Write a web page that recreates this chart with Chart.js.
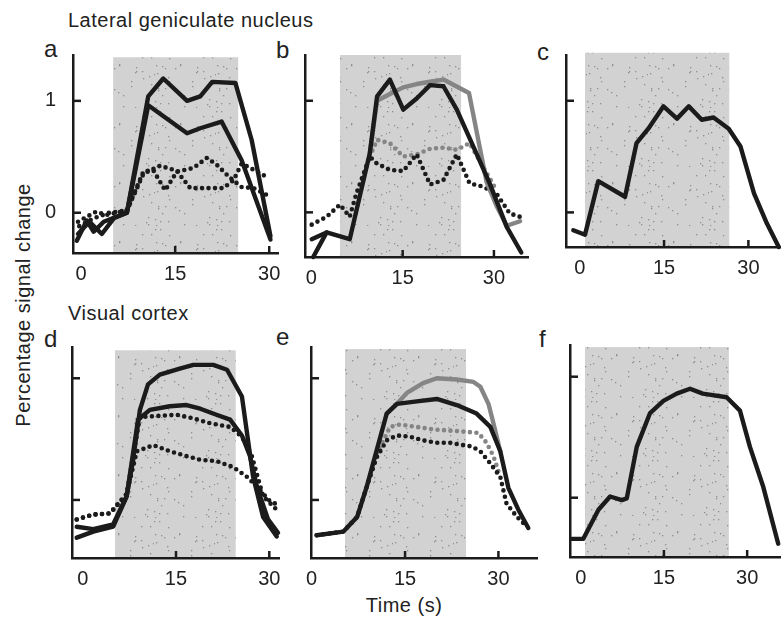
<!DOCTYPE html>
<html>
<head>
<meta charset="utf-8">
<script src="https://cdn.jsdelivr.net/npm/chart.js@4/dist/chart.umd.min.js"></script>
<style>
body { margin: 0; background: #fff; width: 781px; height: 621px; overflow: hidden; position: relative;
       font-family: "Liberation Sans", Arial, sans-serif; color: #222; }
.lbl { position: absolute; white-space: nowrap; line-height: 20px; font-size: 20px; letter-spacing: 0.5px; }
.let { position: absolute; line-height: 24px; font-size: 24px; }
canvas { position: absolute; }
</style>
</head>
<body>
<div class="lbl" style="left:68px;top:10px">Lateral geniculate nucleus</div>
<div class="lbl" style="left:68px;top:303px">Visual cortex</div>
<div class="lbl" style="left:23px;top:305px;transform:translate(-50%,-50%) rotate(-90deg)">Percentage signal change</div>
<div class="lbl" style="left:404px;top:595px;transform:translateX(-50%)">Time (s)</div>
<div class="let" style="left:44px;top:37px">a</div>
<div class="let" style="left:276px;top:38px">b</div>
<div class="let" style="left:537px;top:40px">c</div>
<div class="let" style="left:44px;top:327px">d</div>
<div class="let" style="left:276px;top:325px">e</div>
<div class="let" style="left:539px;top:327px">f</div>

<script>
// ---- data (time in s, percentage signal change) ----
// a: LGN, two solid + two dotted conditions
const aSolid1T = [-0.7, 0.9, 2.0, 3.6, 5.4, 7.3, 10.7, 13.1, 16.9, 19.0, 20.9, 24.6, 27.2, 30.2];
const aSolid1V = [-0.25, -0.07, -0.17, -0.08, -0.04, 0.0, 1.04, 1.2, 1.0, 1.04, 1.17, 1.16, 0.65, -0.21];
const aSolid2T = [-0.5, 1.3, 3.3, 5.2, 7.3, 10.7, 16.9, 19.0, 22.4, 25.6, 30.2];
const aSolid2V = [-0.19, -0.08, -0.19, -0.05, 0.0, 0.96, 0.71, 0.755, 0.815, 0.47, -0.24];
const aDot1T = [-0.5, 2.4, 4.0, 7.3, 9.95, 12.6, 15.5, 17.9, 20.05, 21.6, 23.8, 25.6, 27.5, 29.6];
const aDot1V = [-0.08, 0.01, -0.02, 0.02, 0.35, 0.42, 0.37, 0.40, 0.49, 0.43, 0.31, 0.23, 0.22, 0.16];
const aDot2T = [-0.3, 2.0, 4.5, 7.3, 9.95, 11.5, 13.4, 15.3, 17.4, 20.05, 22.7, 24.3, 25.6, 28.0, 29.9];
const aDot2V = [-0.12, -0.05, 0.0, 0.02, 0.37, 0.38, 0.20, 0.37, 0.22, 0.22, 0.22, 0.29, 0.44, 0.37, 0.31];

// b: LGN, black and gray conditions
const bBlackT = [0.05, 2.5, 6.3, 9.6, 10.8, 12.9, 15.1, 17.3, 19.5, 21.7, 23.9, 27.1, 29.3, 32.1, 34.5];
const bBlackV = [-0.24, -0.18, -0.24, 0.53, 1.04, 1.19, 0.92, 1.02, 1.14, 1.13, 0.92, 0.53, 0.26, -0.13, -0.36];
const bBlack2T = [0.3, 1.9, 2.5];
const bBlack2V = [-0.4, -0.24, -0.18];
const bGrayT = [9.6, 10.8, 12.9, 15.1, 17.3, 19.5, 21.7, 25.9, 28.8, 30.5, 32.1, 34.3];
const bGrayV = [0.53, 1.0, 1.06, 1.12, 1.15, 1.17, 1.19, 1.07, 0.27, 0.05, -0.12, -0.08];
const bBlackDotT = [0.05, 2.5, 4.7, 6.3, 7.4, 9.6, 10.7, 12.9, 15.1, 17.3, 19.5, 21.7, 23.9, 26.0, 28.2, 30.4, 32.6, 34.3];
const bBlackDotV = [-0.11, -0.04, 0.07, -0.04, 0.17, 0.5, 0.44, 0.38, 0.37, 0.52, 0.25, 0.29, 0.52, 0.26, 0.23, 0.17, -0.01, -0.04];
const bGrayDotT = [9.6, 10.8, 12.9, 15.1, 17.3, 19.5, 21.7, 23.9, 26.0, 28.2, 30.4];
const bGrayDotV = [0.5, 0.65, 0.62, 0.5, 0.52, 0.57, 0.58, 0.56, 0.62, 0.41, 0.2];

// c: LGN, single response
const cT = [-1.14, 0.94, 3.3, 8.06, 10.1, 12.2, 14.9, 17.3, 19.4, 21.7, 23.8, 26.5, 28.6, 31.0, 33.3, 35.4];
const cV = [-0.16, -0.2, 0.28, 0.14, 0.62, 0.75, 0.95, 0.84, 0.95, 0.83, 0.85, 0.75, 0.59, 0.17, -0.1, -0.31];

// d: visual cortex, two solid + two dotted
const dSolid1T = [-0.96, 1.7, 4.9, 7.07, 8.1, 9.2, 10.5, 12.4, 15.6, 17.8, 21.0, 23.2, 25.6, 27.4, 29.0, 31.2];
const dSolid1V = [-0.31, -0.26, -0.22, 0.03, 0.33, 0.74, 0.95, 1.03, 1.08, 1.11, 1.11, 1.07, 0.85, 0.19, -0.14, -0.30];
const dSolid2T = [-0.96, 1.7, 4.9, 7.07, 8.9, 10.8, 14.0, 16.7, 18.9, 21.5, 23.7, 25.6, 26.9, 28.0, 29.8, 31.4];
const dSolid2V = [-0.22, -0.24, -0.2, 0.03, 0.66, 0.74, 0.77, 0.78, 0.75, 0.70, 0.66, 0.53, 0.36, 0.11, -0.16, -0.27];
const dDot1T = [-0.96, 1.7, 4.4, 7.07, 9.2, 11.9, 15.1, 17.8, 20.5, 23.7, 25.6, 27.2, 29.0, 31.2];
const dDot1V = [-0.16, -0.12, -0.11, 0.05, 0.68, 0.69, 0.70, 0.67, 0.63, 0.60, 0.52, 0.36, 0.03, -0.08];
const dDot2T = [-0.96, 1.7, 4.4, 7.07, 8.7, 11.35, 14.0, 16.7, 18.9, 21.5, 24.2, 26.4, 28.0, 30.1, 31.4];
const dDot2V = [-0.16, -0.12, -0.11, 0.05, 0.40, 0.45, 0.40, 0.36, 0.33, 0.32, 0.27, 0.19, 0.11, -0.01, -0.04];

// e: visual cortex, black and gray conditions
const eBlackT = [0.8, 5.1, 7.3, 8.85, 10.45, 12.05, 13.7, 16.9, 20.1, 23.3, 26.5, 28.7, 30.3, 31.6, 33.2, 34.8];
const eBlackV = [-0.29, -0.26, -0.14, 0.11, 0.41, 0.71, 0.79, 0.81, 0.83, 0.78, 0.71, 0.60, 0.40, 0.10, -0.08, -0.23];
const eGrayT = [12.05, 13.7, 15.3, 17.9, 20.1, 23.3, 26.0, 27.1, 28.4, 29.2, 30.3];
const eGrayV = [0.71, 0.79, 0.88, 0.96, 1.0, 0.99, 0.97, 0.93, 0.79, 0.63, 0.40];
const eBlackDotT = [0.8, 5.1, 7.3, 8.85, 10.45, 12.05, 13.7, 15.8, 17.9, 20.1, 22.2, 24.4, 25.7, 27.1, 28.7, 30.3, 31.3, 33.0, 34.6];
const eBlackDotV = [-0.29, -0.26, -0.14, 0.11, 0.35, 0.49, 0.53, 0.52, 0.49, 0.47, 0.47, 0.45, 0.44, 0.40, 0.30, 0.19, -0.03, -0.14, -0.22];
const eGrayDotT = [10.45, 12.6, 14.2, 16.9, 19.5, 22.2, 24.9, 26.8, 28.1, 29.2, 30.3];
const eGrayDotV = [0.38, 0.60, 0.62, 0.60, 0.58, 0.57, 0.56, 0.55, 0.47, 0.36, 0.19];

// f: visual cortex, single response
const fT = [-1.6, 0.47, 3.2, 5.3, 7.4, 8.3, 10.1, 12.5, 14.9, 17.3, 19.7, 22.0, 26.3, 28.7, 30.5, 32.9, 35.6];
const fV = [-0.34, -0.34, -0.10, 0.01, -0.02, -0.005, 0.42, 0.70, 0.80, 0.86, 0.90, 0.86, 0.83, 0.72, 0.42, 0.09, -0.38];

const xTickVals = [0, 15, 30];
const yTickVals = [0, 1];

// ---- drawing ----
const BLACK = '#1b1b1b', GRAY = '#858585', SHADE = '#d2d2d2';
const padL = 40, padT = 6, padR = 6, padB = 34;

function pts(t, v) { return t.map((x, i) => ({x: x, y: v[i]})); }

function line(t, v, color, dotted) {
    return {
        data: pts(t, v),
        showLine: true,
        borderColor: color,
        borderWidth: dotted ? 4.6 : 4.4,
        borderDash: dotted ? [0, 6.5] : [],
        borderCapStyle: 'round',
        borderJoinStyle: 'round',
        pointRadius: 0,
        tension: 0,
        clip: 6
    };
}

// speckled grey for the stimulus block (fixed, scattered dot layout)
function speckle(ctx) {
    const tile = document.createElement('canvas');
    tile.width = 61; tile.height = 59;
    const c = tile.getContext('2d');
    c.fillStyle = SHADE;
    c.fillRect(0, 0, 61, 59);
    c.fillStyle = '#909090';
    for (let i = 0; i < 40; i++) {
        c.fillRect((i * i * 7 + i * 13) % 61, (i * i * 11 + i * 5 + 3) % 59, 1.3, 1.3);
    }
    return ctx.createPattern(tile, 'repeat');
}

// stimulus block and inward tick marks
const stimPlugin = {
    id: 'stim',
    beforeDatasetsDraw(chart, args, opts) {
        const {ctx, chartArea, scales} = chart;
        const x0 = scales.x.getPixelForValue(opts.on);
        const x1 = scales.x.getPixelForValue(opts.off);
        const yt = scales.y.getPixelForValue(opts.top);
        ctx.save();
        ctx.fillStyle = speckle(ctx);
        ctx.fillRect(x0, yt, x1 - x0, chartArea.bottom - 1 - yt);
        ctx.restore();
    },
    afterDraw(chart) {
        const {ctx, chartArea, scales} = chart;
        ctx.save();
        ctx.strokeStyle = BLACK;
        ctx.lineWidth = 2.5;
        [15, 30].forEach(v => {
            const px = scales.x.getPixelForValue(v);
            ctx.beginPath(); ctx.moveTo(px, chartArea.bottom); ctx.lineTo(px, chartArea.bottom - 7); ctx.stroke();
        });
        yTickVals.forEach(v => {
            const py = scales.y.getPixelForValue(v);
            ctx.beginPath(); ctx.moveTo(chartArea.left, py); ctx.lineTo(chartArea.left + 8, py); ctx.stroke();
        });
        ctx.restore();
    }
};

const panels = [
    {box: [73, 55, 278, 253], x: [-1.3, 31.4], y: [-0.36, 1.41], stim: [5.1, 25.05, 1.39], yLabels: true,
     sets: [line(aSolid1T, aSolid1V, BLACK), line(aSolid2T, aSolid2V, BLACK),
            line(aDot1T, aDot1V, BLACK, true), line(aDot2T, aDot2V, BLACK, true)]},
    {box: [305, 55, 528, 257], x: [-1.05, 35.6], y: [-0.40, 1.41], stim: [4.7, 24.6, 1.41],
     sets: [line(bBlackT, bBlackV, BLACK), line(bBlack2T, bBlack2V, BLACK), line(bGrayT, bGrayV, GRAY),
            line(bBlackDotT, bBlackDotV, BLACK, true), line(bGrayDotT, bGrayDotV, GRAY, true)]},
    {box: [566, 55, 781, 247], x: [-2.44, 35.8], y: [-0.31, 1.41], stim: [0.94, 26.6, 1.43],
     sets: [line(cT, cV, BLACK)]},
    {box: [72, 347, 279, 558], x: [-1.72, 31.56], y: [-0.477, 1.257], stim: [5.2, 24.6, 1.23],
     sets: [line(dSolid1T, dSolid1V, BLACK), line(dSolid2T, dSolid2V, BLACK),
            line(dDot1T, dDot1V, BLACK, true), line(dDot2T, dDot2V, BLACK, true)]},
    {box: [311, 347, 537, 558], x: [-0.11, 36.2], y: [-0.477, 1.257], stim: [5.35, 24.8, 1.24],
     sets: [line(eBlackT, eBlackV, BLACK), line(eGrayT, eGrayV, GRAY),
            line(eBlackDotT, eBlackDotV, BLACK, true), line(eGrayDotT, eGrayDotV, GRAY, true)]},
    {box: [570, 345, 781, 557], x: [-1.93, 36.1], y: [-0.49, 1.262], stim: [0.77, 26.7, 1.245],
     sets: [line(fT, fV, BLACK)]}
];

panels.forEach(p => {
    const [L, T, R, B] = p.box;
    const cv = document.createElement('canvas');
    const w = R - L + padL + padR, h = B - T + padT + padB;
    cv.width = w; cv.height = h;
    cv.style.left = (L - padL) + 'px';
    cv.style.top = (T - padT) + 'px';
    cv.style.width = w + 'px'; cv.style.height = h + 'px';
    document.body.appendChild(cv);

    new Chart(cv.getContext('2d'), {
        type: 'scatter',
        data: {datasets: p.sets},
        plugins: [stimPlugin],
        options: {
            responsive: false,
            animation: false,
            layout: {padding: {left: 0, top: padT, right: padR, bottom: 0}},
            plugins: {
                legend: {display: false},
                tooltip: {enabled: false},
                stim: {on: p.stim[0], off: p.stim[1], top: p.stim[2]}
            },
            scales: {
                x: {
                    type: 'linear', min: p.x[0], max: p.x[1],
                    afterBuildTicks: s => { s.ticks = xTickVals.map(v => ({value: v})); },
                    afterFit: s => { s.height = padB; s.paddingLeft = 0; s.paddingRight = 0; },
                    grid: {display: false},
                    border: {display: true, color: BLACK, width: 2.5},
                    ticks: {color: '#222', padding: 1, maxRotation: 0,
                            font: {family: '"Liberation Sans", Arial, sans-serif', size: 20}}
                },
                y: {
                    type: 'linear', min: p.y[0], max: p.y[1],
                    afterBuildTicks: s => { s.ticks = yTickVals.map(v => ({value: v})); },
                    afterFit: s => { s.width = padL; s.paddingTop = 0; s.paddingBottom = 0; },
                    grid: {display: false},
                    border: {display: true, color: BLACK, width: 2.5},
                    ticks: {display: !!p.yLabels, color: '#222', padding: 9,
                            font: {family: '"Liberation Sans", Arial, sans-serif', size: 20}}
                }
            }
        }
    });
});
</script>
</body>
</html>
